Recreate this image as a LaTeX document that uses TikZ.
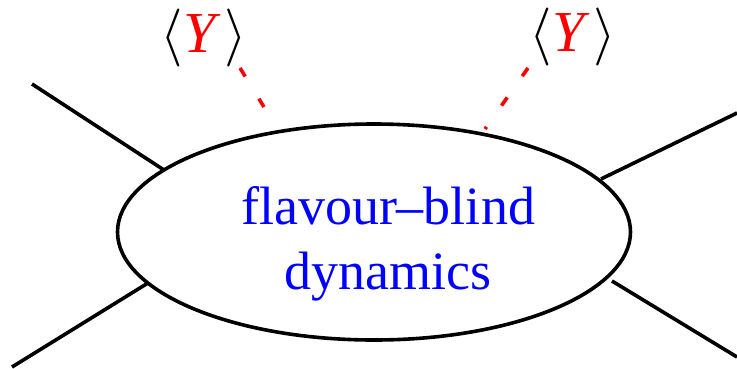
\RequirePackage{fix-cm}
\documentclass[tikz,border=0pt]{standalone}
\usepackage{fontspec}
\setmainfont{Liberation Serif}
\usetikzlibrary{shapes.geometric}
\definecolor{textblue}{RGB}{0,0,255}
\begin{document}
\begin{tikzpicture}[x=1pt,y=-1pt,
  leg/.style={line width=3.6pt},
  yuk/.style={red,line width=3.6pt,dash pattern=on 10pt off 26pt},
  vev/.style={inner sep=0pt,font=\fontsize{58}{60}\selectfont},
  lbl/.style={inner sep=0pt,anchor=base,text=textblue,font=\fontsize{54}{65}\selectfont}]
\useasboundingbox (0,0) rectangle (737,368);
\node[ellipse,draw,line width=3.6pt,minimum width=513pt,minimum height=216pt,inner sep=0pt] (blob) at (374,232) {};
\node[lbl] (t1) at (388,224) {flavour–blind};
\node[lbl] (t2) at (388,289) {dynamics};
% external legs
\coordinate (a1) at (32,84);
\coordinate (a2) at (164,170);
\coordinate (b1) at (12,367);
\coordinate (b2) at (148,283);
\coordinate (c1) at (737,113);
\coordinate (c2) at (601,179);
\coordinate (d1) at (612,281);
\coordinate (d2) at (737,357);
\draw[leg] (a1) -- (a2);
\draw[leg] (b1) -- (b2);
\draw[leg] (c1) -- (c2);
\draw[leg] (d1) -- (d2);
% Yukawa insertions
\node[vev] (yl) at (204,38) {$\langle\textcolor{red}{\textit{Y}}\,\rangle$};
\node[vev] (yr) at (573,37) {$\langle\textcolor{red}{\textit{Y}}\,\rangle$};
\coordinate (l1) at (240,68);
\coordinate (l2) at (264,107);
\coordinate (r1) at (528,68);
\coordinate (r2) at (485,129);
\draw[yuk] (l1) -- (l2);
\draw[yuk] (r1) -- (r2);
\end{tikzpicture}
\end{document}
